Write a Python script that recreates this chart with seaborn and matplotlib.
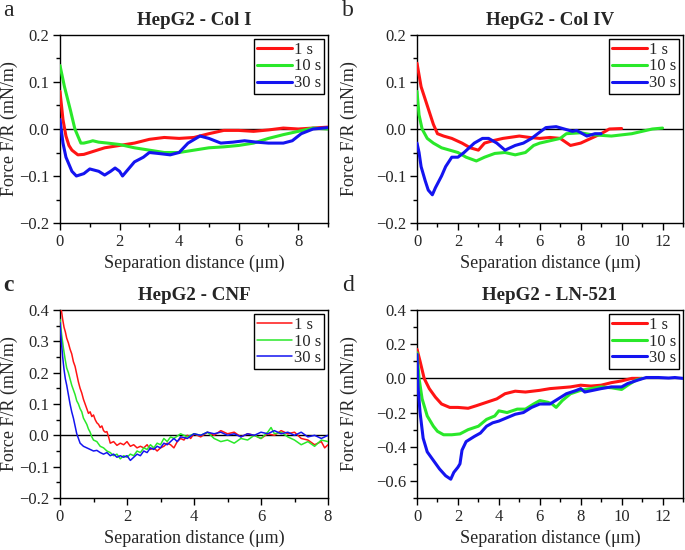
import matplotlib
matplotlib.use("Agg")
import matplotlib.pyplot as plt
import seaborn as sns
import pandas as pd
from matplotlib.ticker import MultipleLocator

sns.set_theme(style="ticks")
plt.rcParams['font.family'] = ['Liberation Serif', 'DejaVu Serif']
plt.rcParams['mathtext.fontset'] = 'stix'

labels = ["1 s", "10 s", "30 s"]
colors = ["#ff1414", "#2ae82a", "#1414f0"]

# ---- Panel a: HepG2 - Col I ----
a_red_x = [0.0, 0.1, 0.2, 0.3, 0.4, 0.5, 0.6, 0.8, 1.0, 1.5, 2.0, 2.5, 3.0, 3.5, 4.0, 4.5, 5.0, 5.5, 6.0, 6.5, 7.0, 7.5, 8.0, 8.5, 9.0]
a_red_y = [0.08, 0.02, -0.015, -0.035, -0.045, -0.05, -0.055, -0.054, -0.05, -0.04, -0.035, -0.03, -0.022, -0.018, -0.02, -0.018, -0.01, -0.003, -0.003, -0.005, -0.002, 0.002, 0.0, 0.002, 0.004]
a_grn_x = [0.0, 0.15, 0.35, 0.5, 0.7, 0.8, 1.0, 1.1, 1.3, 1.6, 2.0, 2.5, 3.0, 3.5, 4.0, 4.5, 5.0, 5.5, 6.0, 6.5, 7.0, 7.5, 8.0, 8.5, 9.0]
a_grn_y = [0.135, 0.09, 0.04, 0.0, -0.03, -0.03, -0.027, -0.025, -0.028, -0.03, -0.033, -0.04, -0.045, -0.05, -0.05, -0.045, -0.04, -0.038, -0.035, -0.03, -0.02, -0.012, -0.005, 0.002, 0.0]
a_blu_x = [0.0, 0.1, 0.2, 0.4, 0.55, 0.8, 1.0, 1.3, 1.5, 1.7, 1.85, 2.0, 2.1, 2.3, 2.5, 2.8, 3.0, 3.3, 3.7, 4.0, 4.3, 4.7, 5.0, 5.4, 5.8, 6.2, 6.6, 7.0, 7.5, 7.8, 8.1, 8.5, 9.0]
a_blu_y = [0.02, -0.03, -0.06, -0.09, -0.1, -0.095, -0.085, -0.09, -0.098, -0.09, -0.083, -0.09, -0.1, -0.085, -0.07, -0.06, -0.05, -0.052, -0.055, -0.05, -0.03, -0.015, -0.02, -0.03, -0.028, -0.025, -0.028, -0.03, -0.03, -0.025, -0.01, 0.0, 0.003]

# ---- Panel b: HepG2 - Col IV ----
b_red_x = [0.0, 0.2, 0.5, 0.8, 1.0, 1.3, 1.7, 2.2, 2.6, 3.0, 3.3, 3.7, 4.2, 5.0, 5.5, 6.0, 6.5, 7.0, 7.5, 8.0, 8.5, 9.0, 9.4, 10.0]
b_red_y = [0.14, 0.09, 0.05, 0.01, -0.01, -0.015, -0.02, -0.03, -0.04, -0.045, -0.03, -0.025, -0.02, -0.015, -0.018, -0.02, -0.018, -0.02, -0.035, -0.03, -0.02, -0.01, 0.0, 0.001]
b_grn_x = [0.0, 0.1, 0.25, 0.5, 0.8, 1.2, 1.6, 2.0, 2.4, 2.9, 3.3, 3.8, 4.3, 4.8, 5.3, 5.7, 6.0, 6.5, 7.0, 7.3, 8.0, 8.5, 9.5, 10.5, 11.0, 11.5, 12.0]
b_grn_y = [0.08, 0.03, 0.0, -0.02, -0.03, -0.04, -0.045, -0.05, -0.06, -0.068, -0.06, -0.052, -0.05, -0.055, -0.05, -0.035, -0.03, -0.025, -0.02, -0.01, -0.008, -0.012, -0.015, -0.01, -0.005, 0.0, 0.002]
b_blu_x = [0.0, 0.1, 0.2, 0.4, 0.55, 0.75, 0.9, 1.2, 1.4, 1.7, 2.0, 2.3, 2.8, 3.2, 3.5, 3.9, 4.3, 4.8, 5.2, 5.6, 5.9, 6.3, 6.8, 7.2, 7.6, 7.8, 8.3, 8.7, 9.0]
b_blu_y = [-0.03, -0.05, -0.08, -0.11, -0.13, -0.14, -0.125, -0.1, -0.08, -0.06, -0.06, -0.05, -0.03, -0.02, -0.02, -0.03, -0.045, -0.035, -0.03, -0.02, -0.01, 0.003, 0.005, 0.0, -0.005, -0.003, -0.015, -0.01, -0.01]

# ---- Panel c: HepG2 - CNF ----
c_red_x = [0.04, 0.08, 0.12, 0.16, 0.2, 0.25, 0.3, 0.35, 0.4, 0.45, 0.5, 0.55, 0.6, 0.65, 0.7, 0.75, 0.8, 0.85, 0.9, 0.95, 1.0, 1.05, 1.1, 1.15, 1.2, 1.25, 1.3, 1.35, 1.4, 1.45, 1.5, 1.6, 1.7, 1.8, 1.9, 2.0, 2.1, 2.2, 2.3, 2.4, 2.5, 2.6, 2.7, 2.8, 2.9, 3.0, 3.1, 3.2, 3.3, 3.4, 3.5, 3.6, 3.7, 3.8, 3.9, 4.0, 4.2, 4.4, 4.6, 4.8, 5.0, 5.2, 5.4, 5.6, 5.8, 6.0, 6.2, 6.4, 6.6, 6.8, 7.0, 7.2, 7.4, 7.6, 7.8, 7.9, 8.0]
c_red_y = [0.40, 0.37, 0.345, 0.33, 0.31, 0.295, 0.275, 0.26, 0.235, 0.22, 0.195, 0.17, 0.15, 0.135, 0.115, 0.1, 0.085, 0.07, 0.075, 0.06, 0.065, 0.05, 0.04, 0.035, 0.025, 0.03, 0.015, 0.01, 0.012, -0.005, -0.025, -0.02, -0.032, -0.025, -0.03, -0.02, -0.035, -0.03, -0.04, -0.035, -0.04, -0.03, -0.045, -0.04, -0.05, -0.04, -0.035, -0.025, -0.03, -0.04, -0.02, -0.01, -0.015, 0.0, -0.01, 0.005, -0.005, 0.01, 0.0, 0.015, 0.005, 0.01, -0.005, 0.005, 0.0, -0.01, 0.005, 0.0, 0.015, 0.005, 0.01, -0.01, -0.015, -0.03, -0.02, -0.04, -0.03]
c_grn_x = [0.0, 0.05, 0.1, 0.15, 0.2, 0.25, 0.3, 0.35, 0.4, 0.45, 0.5, 0.55, 0.6, 0.65, 0.7, 0.75, 0.8, 0.85, 0.9, 0.95, 1.0, 1.1, 1.2, 1.3, 1.4, 1.5, 1.6, 1.7, 1.8, 1.9, 2.0, 2.1, 2.2, 2.3, 2.4, 2.5, 2.6, 2.7, 2.8, 2.9, 3.0, 3.1, 3.2, 3.3, 3.4, 3.6, 3.8, 4.0, 4.2, 4.4, 4.6, 4.8, 5.0, 5.2, 5.4, 5.6, 5.8, 6.0, 6.2, 6.3, 6.4, 6.6, 6.8, 7.0, 7.2, 7.4, 7.6, 7.8, 8.0]
c_grn_y = [0.37, 0.32, 0.28, 0.245, 0.215, 0.2, 0.18, 0.16, 0.145, 0.13, 0.11, 0.1, 0.085, 0.075, 0.055, 0.045, 0.035, 0.02, 0.01, -0.005, -0.015, -0.02, -0.035, -0.04, -0.05, -0.055, -0.065, -0.06, -0.075, -0.065, -0.07, -0.06, -0.065, -0.05, -0.055, -0.04, -0.045, -0.03, -0.04, -0.025, -0.03, -0.01, -0.02, -0.005, -0.01, 0.005, -0.005, 0.005, 0.0, 0.01, -0.01, -0.02, -0.015, -0.025, -0.01, -0.015, 0.0, -0.01, 0.01, 0.025, 0.005, 0.01, -0.005, -0.015, -0.03, -0.02, -0.035, -0.015, -0.02]
c_blu_x = [0.0, 0.04, 0.08, 0.12, 0.16, 0.2, 0.25, 0.3, 0.35, 0.4, 0.45, 0.5, 0.55, 0.6, 0.7, 0.8, 0.9, 1.0, 1.1, 1.2, 1.3, 1.4, 1.5, 1.6, 1.7, 1.8, 1.9, 2.0, 2.1, 2.2, 2.3, 2.4, 2.5, 2.6, 2.7, 2.8, 2.9, 3.0, 3.1, 3.2, 3.3, 3.4, 3.5, 3.6, 3.8, 4.0, 4.2, 4.4, 4.6, 4.8, 5.0, 5.2, 5.4, 5.6, 5.8, 6.0, 6.2, 6.4, 6.6, 6.8, 7.0, 7.2, 7.4, 7.6, 7.8, 8.0]
c_blu_y = [0.36, 0.3, 0.25, 0.21, 0.18, 0.16, 0.13, 0.1, 0.075, 0.055, 0.03, 0.005, -0.01, -0.025, -0.035, -0.04, -0.045, -0.05, -0.048, -0.055, -0.06, -0.055, -0.065, -0.06, -0.07, -0.065, -0.07, -0.065, -0.08, -0.07, -0.06, -0.065, -0.05, -0.055, -0.04, -0.045, -0.035, -0.04, -0.025, -0.03, -0.02, -0.01, -0.02, -0.005, -0.01, 0.005, 0.0, 0.01, 0.005, 0.01, 0.0, 0.005, -0.005, 0.005, 0.0, 0.01, 0.005, 0.015, 0.005, 0.01, 0.0, 0.01, -0.005, 0.0, -0.01, 0.0]

# ---- Panel d: HepG2 - LN-521 ----
d_red_x = [0.0, 0.15, 0.35, 0.6, 0.9, 1.2, 1.6, 2.0, 2.5, 2.9, 3.4, 3.9, 4.3, 4.8, 5.3, 6.0, 6.5, 7.0, 7.5, 8.0, 8.5, 9.0, 9.5, 10.0, 10.5, 11.0]
d_red_y = [0.17, 0.1, 0.0, -0.06, -0.11, -0.15, -0.17, -0.17, -0.175, -0.16, -0.14, -0.12, -0.09, -0.075, -0.08, -0.07, -0.06, -0.055, -0.05, -0.04, -0.045, -0.04, -0.025, -0.015, 0.0, 0.0]
d_grn_x = [0.0, 0.1, 0.25, 0.5, 0.8, 1.0, 1.3, 1.7, 2.1, 2.5, 3.0, 3.4, 3.8, 4.0, 4.4, 4.9, 5.3, 5.7, 6.0, 6.4, 6.6, 6.8, 7.1, 7.5, 8.0, 8.5, 9.0, 9.5, 10.0, 10.3, 10.7, 11.0]
d_grn_y = [0.15, 0.0, -0.12, -0.22, -0.28, -0.31, -0.33, -0.33, -0.325, -0.3, -0.28, -0.24, -0.22, -0.19, -0.2, -0.18, -0.18, -0.15, -0.13, -0.14, -0.15, -0.17, -0.13, -0.09, -0.07, -0.06, -0.05, -0.055, -0.065, -0.04, -0.01, 0.0]
d_blu_x = [0.0, 0.05, 0.15, 0.3, 0.5, 0.8, 1.1, 1.4, 1.65, 1.8, 2.0, 2.1, 2.2, 2.4, 2.8, 3.1, 3.4, 3.7, 4.0, 4.4, 4.8, 5.2, 5.6, 6.0, 6.5, 6.9, 7.3, 7.8, 8.0, 8.2, 8.6, 9.0, 9.5, 10.0, 10.3, 10.8, 11.2, 11.8, 12.3, 12.6, 13.0]
d_blu_y = [0.14, -0.05, -0.2, -0.35, -0.43, -0.48, -0.53, -0.57, -0.59, -0.55, -0.52, -0.5, -0.42, -0.37, -0.34, -0.32, -0.28, -0.26, -0.25, -0.23, -0.21, -0.2, -0.17, -0.15, -0.15, -0.12, -0.09, -0.07, -0.06, -0.08, -0.07, -0.06, -0.05, -0.05, -0.03, -0.01, 0.005, 0.005, 0.002, 0.005, 0.0]

panels = [
    dict(letter="a", title="HepG2 - Col I", xs=[a_red_x, a_grn_x, a_blu_x], ys=[a_red_y, a_grn_y, a_blu_y],
         xlim=(0, 9), ylim=(-0.2, 0.2), xmaj=2, xmin=1, ymaj=0.1, ymin=0.05, lw=2.2, letter_bold=False),
    dict(letter="b", title="HepG2 - Col IV", xs=[b_red_x, b_grn_x, b_blu_x], ys=[b_red_y, b_grn_y, b_blu_y],
         xlim=(0, 13), ylim=(-0.2, 0.2), xmaj=2, xmin=1, ymaj=0.1, ymin=0.05, lw=2.2, letter_bold=False),
    dict(letter="c", title="HepG2 - CNF", xs=[c_red_x, c_grn_x, c_blu_x], ys=[c_red_y, c_grn_y, c_blu_y],
         xlim=(0, 8), ylim=(-0.2, 0.4), xmaj=2, xmin=1, ymaj=0.1, ymin=0.05, lw=1.1, letter_bold=True),
    dict(letter="d", title="HepG2 - LN-521", xs=[d_red_x, d_grn_x, d_blu_x], ys=[d_red_y, d_grn_y, d_blu_y],
         xlim=(0, 13), ylim=(-0.7, 0.4), xmaj=2, xmin=1, ymaj=0.2, ymin=0.1, lw=2.2, letter_bold=False),
]

fig = plt.figure(figsize=(6.85, 5.5), dpi=100)
rects = [
    (60/685, 1-223/550, 268/685, 188/550),
    (417/685, 1-223/550, 266/685, 188/550),
    (60/685, 1-498/550, 268/685, 188/550),
    (417/685, 1-498/550, 266/685, 188/550),
]
letter_pos = [(3/685, 1-0/550), (342/685, 1-0/550), (3/685, 1-275/550), (342/685, 1-275/550)]
ylabel_px = [18, 358, 18, 358]

for p, rect, lp, ylp in zip(panels, rects, letter_pos, ylabel_px):
    ax = fig.add_axes(rect)
    frames = []
    for lab, x, y in zip(labels, p["xs"], p["ys"]):
        frames.append(pd.DataFrame({"x": x, "y": y, "t": lab}))
    df = pd.concat(frames, ignore_index=True)
    ax.axhline(0, color="black", lw=1.0, zorder=1)
    sns.lineplot(data=df, x="x", y="y", hue="t", hue_order=labels, palette=colors,
                 sort=False, estimator=None, lw=p["lw"], ax=ax, legend=False, zorder=3)
    ax.set_xlim(*p["xlim"])
    ax.set_ylim(*p["ylim"])
    ax.xaxis.set_major_locator(MultipleLocator(p["xmaj"]))
    ax.xaxis.set_minor_locator(MultipleLocator(p["xmin"]))
    ax.yaxis.set_major_locator(MultipleLocator(p["ymaj"]))
    ax.yaxis.set_minor_locator(MultipleLocator(p["ymin"]))
    ax.tick_params(which="major", direction="out", length=5, width=1, labelsize=12, color="black", pad=3)
    ax.tick_params(which="minor", direction="out", length=3, width=1, color="black")
    for sp in ax.spines.values():
        sp.set_color("black")
        sp.set_linewidth(1.0)
    ax.set_xlabel("Separation distance (μm)", fontsize=13, labelpad=3)
    ax.set_ylabel("Force F/R (mN/m)", fontsize=13)
    ax.yaxis.set_label_coords((ylp - rect[0] * 685) / (rect[2] * 685), 0.5)
    ax.set_title(p["title"], fontsize=13.7, fontweight="bold", pad=7)
    handles = [plt.Line2D([], [], color=c, lw=p["lw"]) for c in colors]
    leg = ax.legend(handles, labels, loc="upper right", fontsize=12, frameon=True, fancybox=False,
                    edgecolor="black", framealpha=1, handlelength=2.1, handletextpad=0.15,
                    borderpad=0.15, labelspacing=0.05, borderaxespad=0.25)
    leg.get_frame().set_linewidth(1.0)
    fig.text(lp[0], lp[1], p["letter"], fontsize=17, va="top", ha="left",
             fontweight="bold" if p["letter_bold"] else "normal")

fig.savefig("out.png", dpi=100)
